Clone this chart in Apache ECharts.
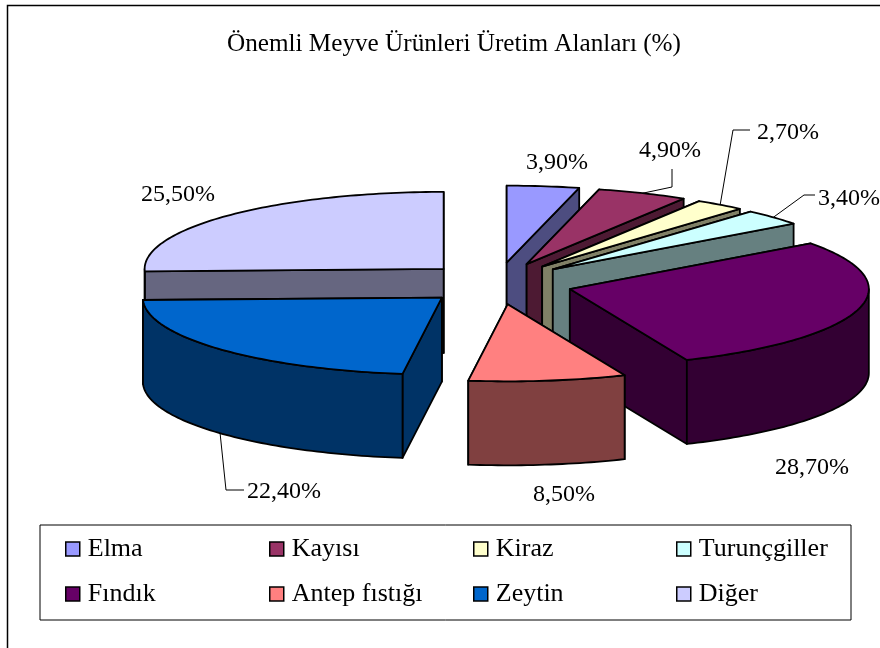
<!DOCTYPE html>
<html>
<head>
<meta charset="utf-8">
<style>
  html, body { margin: 0; padding: 0; background: #fff; }
  #chart { width: 880px; height: 648px; }
</style>
<script src="https://cdn.jsdelivr.net/npm/echarts@6/dist/echarts.min.js"></script>
</head>
<body>
<div id="chart"></div>
<script>
const titleText = "Önemli Meyve Ürünleri Üretim Alanları (%)";
const categories = ["Elma", "Kayısı", "Kiraz", "Turunçgiller", "Fındık", "Antep fıstığı", "Zeytin", "Diğer"];
const values = [3.9, 4.9, 2.7, 3.4, 28.7, 8.5, 22.4, 25.5];
const topColors = ["#9999ff", "#993366", "#ffffcc", "#ccffff", "#660066", "#ff8080", "#0066cc", "#ccccff"];
const wallColors = ["#4d4d80", "#4d1a33", "#808066", "#668080", "#330033", "#804040", "#003366", "#666680"];

// painter order, back slices first
const drawOrder = [7, 0, 1, 2, 3, 4, 6, 5];

// projected pie
const pie = { cx: 497.5, cy: 283.5, rx: 299, ry: 77, depth: 84, explodeX: 75, explodeY: 21 };
const FONT = '"Liberation Serif", "Times New Roman", serif';
const LINE = 1.8;

// label centre, plus leader bend points for the small slices
const labelLayout = [
  { x: 557, y: 163 },
  { x: 670, y: 151, leader: [[672, 187], [672, 169]] },
  { x: 788, y: 133, leader: [[733, 130], [750, 130]] },
  { x: 849, y: 199, leader: [[804, 195], [815, 195]] },
  { x: 812, y: 468 },
  { x: 564, y: 495 },
  { x: 284, y: 492, leader: [[226, 490], [244, 490]] },
  { x: 178, y: 195 }
];

const total = values.reduce((a, b) => a + b, 0);
const starts = values.map((_, i) => values.slice(0, i).reduce((a, b) => a + b, 0));

const formatPct = v => v.toFixed(2).replace(".", ",") + "%";

// angle is clockwise from 12 o'clock, in radians
const toAngle = share => (share / total) * Math.PI * 2;

function sliceOrigin(from, to) {
  const mid = (from + to) / 2;
  return [pie.cx + pie.explodeX * Math.sin(mid), pie.cy - pie.explodeY * Math.cos(mid)];
}

function rimPoint(o, a, drop) {
  return [o[0] + pie.rx * Math.sin(a), o[1] - pie.ry * Math.cos(a) + (drop || 0)];
}

function arcPoints(o, from, to, drop) {
  const steps = Math.max(2, Math.ceil((to - from) / 0.02));
  const pts = [];
  for (let i = 0; i <= steps; i++) pts.push(rimPoint(o, from + ((to - from) * i) / steps, drop));
  return pts;
}

function face(points, fill) {
  return {
    type: "polygon",
    shape: { points: points },
    style: { fill: fill, stroke: "#000", lineWidth: LINE, lineJoin: "round" }
  };
}

function cutWall(o, a, fill) {
  const p = rimPoint(o, a);
  return {
    meanY: (o[1] + p[1]) / 2,
    el: face([o, p, [p[0], p[1] + pie.depth], [o[0], o[1] + pie.depth]], fill)
  };
}

function renderSlice(params, api) {
  const i = drawOrder[params.seriesIndex];
  const from = toAngle(starts[i]);
  const to = from + toAngle(api.value(0));
  const o = sliceOrigin(from, to);
  const children = [];

  // walls first, the one further back goes under
  const walls = [cutWall(o, from, wallColors[i]), cutWall(o, to, wallColors[i])];
  walls.sort((a, b) => a.meanY - b.meanY);
  walls.forEach(w => children.push(w.el));

  // rim wall only on the front half
  const f0 = Math.max(from, Math.PI / 2);
  const f1 = Math.min(to, (Math.PI * 3) / 2);
  if (f1 > f0) {
    const upper = arcPoints(o, f0, f1, 0);
    const lower = arcPoints(o, f0, f1, pie.depth).reverse();
    children.push(face(upper.concat(lower), wallColors[i]));
  }

  children.push(face([o].concat(arcPoints(o, from, to, 0)), topColors[i]));

  const lay = labelLayout[i];
  if (lay.leader) {
    const mid = (from + to) / 2;
    const drop = Math.cos(mid) < 0 ? pie.depth : 0;
    children.push({
      type: "polyline",
      shape: { points: [rimPoint(o, mid, drop)].concat(lay.leader) },
      style: { fill: "none", stroke: "#000", lineWidth: 1 }
    });
  }
  children.push({
    type: "text",
    style: {
      text: formatPct(api.value(0)),
      x: lay.x,
      y: lay.y,
      fill: "#000",
      fontFamily: FONT,
      fontSize: 24,
      align: "center",
      verticalAlign: "middle"
    }
  });

  return { type: "group", children: children };
}

const chart = echarts.init(document.getElementById("chart"));

const legendColumns = [[0, 4], [1, 5], [2, 6], [3, 7]];
const legendLefts = [65, 269, 473, 676];

chart.setOption({
  animation: false,
  backgroundColor: "#fff",
  title: {
    text: titleText,
    left: 222,
    top: 27,
    textStyle: { fontFamily: FONT, fontSize: 25.2, fontWeight: "normal", color: "#000" }
  },
  legend: legendColumns.map((col, n) => ({
    orient: "vertical",
    left: legendLefts[n],
    top: 535,
    padding: 0,
    itemGap: 17,
    itemWidth: 14,
    itemHeight: 14,
    icon: "rect",
    selectedMode: false,
    data: col.map(i => categories[i]),
    itemStyle: { borderColor: "#000", borderWidth: 1.5 },
    textStyle: { fontFamily: FONT, fontSize: 26, color: "#000", height: 28, lineHeight: 28, padding: [0, 0, 0, 3] }
  })),
  graphic: [
    { type: "polyline", silent: true, shape: { points: [[7.5, 648], [7.5, 5.5], [880, 5.5]] }, style: { fill: "none", stroke: "#000", lineWidth: 1.5 } },
    { type: "rect", silent: true, shape: { x: 40, y: 525, width: 811, height: 95 }, style: { fill: "none", stroke: "#000", lineWidth: 1 } }
  ],
  series: drawOrder.map(i => ({
    type: "custom",
    name: categories[i],
    coordinateSystem: "none",
    silent: true,
    itemStyle: { color: topColors[i] },
    renderItem: renderSlice,
    data: [[values[i]]]
  }))
});
</script>
</body>
</html>
